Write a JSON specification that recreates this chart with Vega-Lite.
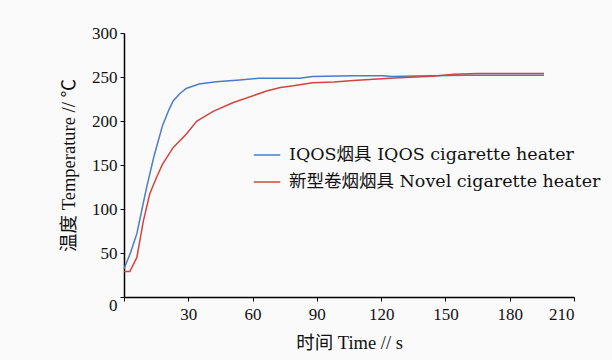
{
  "$schema": "https://vega.github.io/schema/vega-lite/v6.json",
  "width": 450,
  "height": 264,
  "autosize": {"type": "none"},
  "padding": {"left": 124, "top": 33, "right": 38, "bottom": 63},
  "background": "#fafafa",
  "config": {"view": {"stroke": null}},
  "data": {
    "values": [
      {"t": 0, "T": 32, "s": "IQOS烟具 IQOS cigarette heater"},
      {"t": 3, "T": 50, "s": "IQOS烟具 IQOS cigarette heater"},
      {"t": 6, "T": 72, "s": "IQOS烟具 IQOS cigarette heater"},
      {"t": 10.5, "T": 124, "s": "IQOS烟具 IQOS cigarette heater"},
      {"t": 14, "T": 160, "s": "IQOS烟具 IQOS cigarette heater"},
      {"t": 18, "T": 195, "s": "IQOS烟具 IQOS cigarette heater"},
      {"t": 21, "T": 213, "s": "IQOS烟具 IQOS cigarette heater"},
      {"t": 23, "T": 223, "s": "IQOS烟具 IQOS cigarette heater"},
      {"t": 26, "T": 231, "s": "IQOS烟具 IQOS cigarette heater"},
      {"t": 29, "T": 237, "s": "IQOS烟具 IQOS cigarette heater"},
      {"t": 35, "T": 242, "s": "IQOS烟具 IQOS cigarette heater"},
      {"t": 43, "T": 244.5, "s": "IQOS烟具 IQOS cigarette heater"},
      {"t": 54, "T": 246.5, "s": "IQOS烟具 IQOS cigarette heater"},
      {"t": 63, "T": 248.5, "s": "IQOS烟具 IQOS cigarette heater"},
      {"t": 82, "T": 248.5, "s": "IQOS烟具 IQOS cigarette heater"},
      {"t": 88, "T": 250.5, "s": "IQOS烟具 IQOS cigarette heater"},
      {"t": 107, "T": 251.5, "s": "IQOS烟具 IQOS cigarette heater"},
      {"t": 121, "T": 251.5, "s": "IQOS烟具 IQOS cigarette heater"},
      {"t": 125, "T": 250.5, "s": "IQOS烟具 IQOS cigarette heater"},
      {"t": 135, "T": 251, "s": "IQOS烟具 IQOS cigarette heater"},
      {"t": 160, "T": 252, "s": "IQOS烟具 IQOS cigarette heater"},
      {"t": 196, "T": 252, "s": "IQOS烟具 IQOS cigarette heater"},
      {"t": 0, "T": 29, "s": "新型卷烟烟具 Novel cigarette heater"},
      {"t": 2.7, "T": 29, "s": "新型卷烟烟具 Novel cigarette heater"},
      {"t": 6, "T": 45, "s": "新型卷烟烟具 Novel cigarette heater"},
      {"t": 9, "T": 86, "s": "新型卷烟烟具 Novel cigarette heater"},
      {"t": 12, "T": 117, "s": "新型卷烟烟具 Novel cigarette heater"},
      {"t": 15, "T": 135, "s": "新型卷烟烟具 Novel cigarette heater"},
      {"t": 18, "T": 151, "s": "新型卷烟烟具 Novel cigarette heater"},
      {"t": 23, "T": 170, "s": "新型卷烟烟具 Novel cigarette heater"},
      {"t": 29, "T": 185, "s": "新型卷烟烟具 Novel cigarette heater"},
      {"t": 34, "T": 200, "s": "新型卷烟烟具 Novel cigarette heater"},
      {"t": 41.6, "T": 211, "s": "新型卷烟烟具 Novel cigarette heater"},
      {"t": 51, "T": 221, "s": "新型卷烟烟具 Novel cigarette heater"},
      {"t": 66.5, "T": 234, "s": "新型卷烟烟具 Novel cigarette heater"},
      {"t": 73, "T": 238, "s": "新型卷烟烟具 Novel cigarette heater"},
      {"t": 79, "T": 240, "s": "新型卷烟烟具 Novel cigarette heater"},
      {"t": 88, "T": 243.5, "s": "新型卷烟烟具 Novel cigarette heater"},
      {"t": 98, "T": 244.3, "s": "新型卷烟烟具 Novel cigarette heater"},
      {"t": 107, "T": 246, "s": "新型卷烟烟具 Novel cigarette heater"},
      {"t": 126, "T": 249, "s": "新型卷烟烟具 Novel cigarette heater"},
      {"t": 144, "T": 250.8, "s": "新型卷烟烟具 Novel cigarette heater"},
      {"t": 154, "T": 253, "s": "新型卷烟烟具 Novel cigarette heater"},
      {"t": 165, "T": 254, "s": "新型卷烟烟具 Novel cigarette heater"},
      {"t": 196, "T": 254, "s": "新型卷烟烟具 Novel cigarette heater"}
    ]
  },
  "mark": {"type": "line", "strokeWidth": 1.5},
  "encoding": {
    "x": {
      "field": "t", "type": "quantitative",
      "scale": {"domain": [0, 210], "nice": false},
      "axis": {
        "values": [0, 30, 60, 90, 120, 150, 180, 210],
        "labelExpr": "datum.value == 0 ? '' : datum.label",
        "title": "时间 Time // s",
        "grid": false, "domainColor": "#000", "domainWidth": 1.5,
        "tickColor": "#000", "tickSize": 4, "tickWidth": 1,
        "labelFont": "Liberation Serif", "labelFontSize": 17, "labelColor": "#111",
        "labelPadding": 5,
        "titleFont": "Liberation Serif, Noto Sans CJK SC", "titleFontSize": 18.5,
        "titleFontWeight": "normal", "titleColor": "#111", "titlePadding": 11
      }
    },
    "y": {
      "field": "T", "type": "quantitative",
      "scale": {"domain": [0, 300], "nice": false},
      "axis": {
        "values": [0, 50, 100, 150, 200, 250, 300],
        "title": "温度 Temperature // ℃",
        "grid": false, "domainColor": "#000", "domainWidth": 1.5,
        "tickColor": "#000", "tickSize": 4, "tickWidth": 1,
        "labelFont": "Liberation Serif", "labelFontSize": 17, "labelColor": "#111",
        "labelPadding": 3,
        "labelBaseline": {"condition": {"test": "datum.value == 0", "value": "top"}, "value": "middle"},
        "titleFont": "Liberation Serif, Noto Sans CJK SC", "titleFontSize": 18.5,
        "titleFontWeight": "normal", "titleColor": "#111", "titlePadding": 13
      }
    },
    "color": {
      "field": "s", "type": "nominal",
      "scale": {
        "domain": ["IQOS烟具 IQOS cigarette heater", "新型卷烟烟具 Novel cigarette heater"],
        "range": ["#4a7cc9", "#d4443e"]
      },
      "legend": {
        "title": null,
        "orient": "none",
        "legendX": 129,
        "legendY": 108,
        "symbolType": "stroke",
        "symbolSize": 700,
        "symbolStrokeWidth": 1.5,
        "labelFont": "DejaVu Serif, Noto Sans CJK SC",
        "labelFontSize": 17.5,
        "labelColor": "#111",
        "labelOffset": 8,
        "rowPadding": 4,
        "labelLimit": 400
      }
    }
  }
}
